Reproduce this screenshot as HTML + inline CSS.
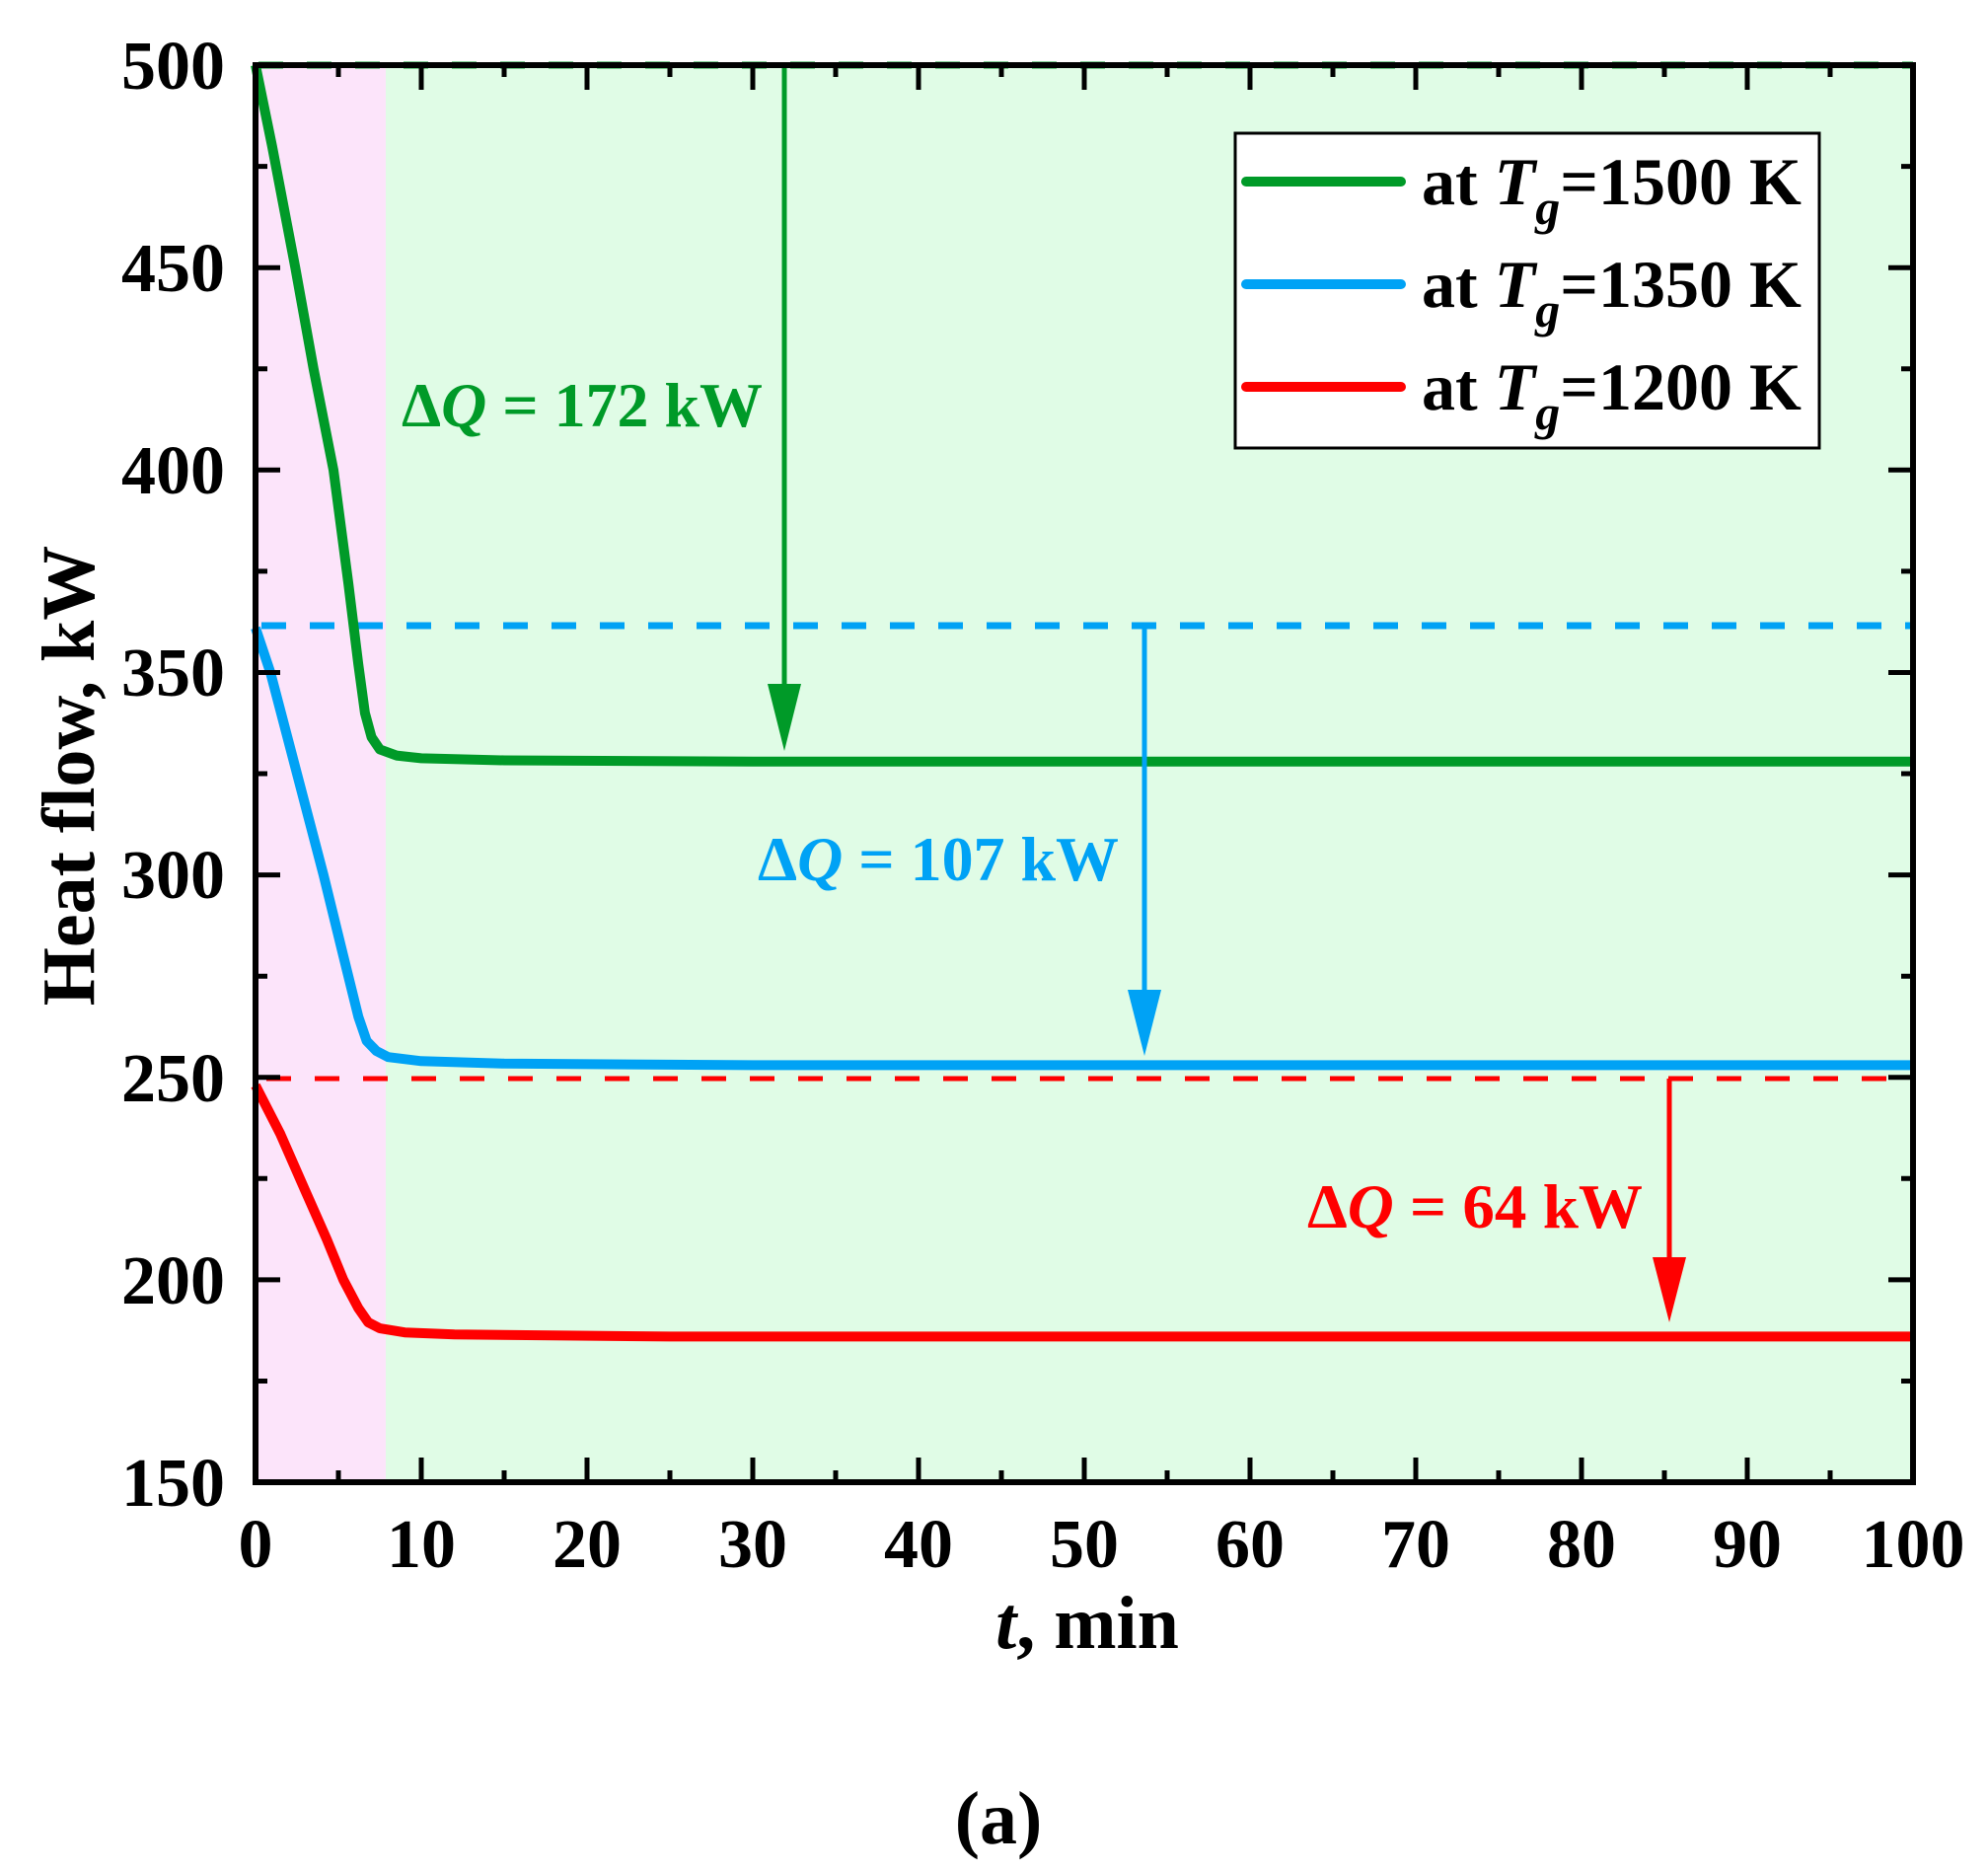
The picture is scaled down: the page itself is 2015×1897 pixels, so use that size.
<!DOCTYPE html>
<html><head><meta charset="utf-8"><style>html,body{margin:0;padding:0;background:#fff}svg{display:block}</style></head>
<body>
<svg width="2015" height="1897" viewBox="0 0 2015 1897" xmlns="http://www.w3.org/2000/svg" font-family="'Liberation Serif', serif" font-weight="bold">
<rect x="259" y="66" width="132" height="1436" fill="#fce4fa"/>
<rect x="391" y="66" width="1548" height="1436" fill="#e0fce6"/>
<line x1="262" y1="66" x2="1939" y2="66" stroke="#009a28" stroke-width="7" stroke-dasharray="25,24"/>
<line x1="265" y1="634" x2="1939" y2="634" stroke="#00a2f5" stroke-width="7" stroke-dasharray="25,24"/>
<line x1="270" y1="1093" x2="1939" y2="1093" stroke="#ff0000" stroke-width="5" stroke-dasharray="25,24"/>
<g fill="none" stroke-width="10" stroke-linejoin="round" stroke-linecap="butt">
<polyline stroke="#009a28" points="259,66 275.8,148.1 299.3,271.2 317.8,373.7 338,476.3 353.1,591.2 363.2,673.2 369.9,722.5 376.6,747.1 385,759.4 401.8,765.6 427,768.4 511,770.5 763,771.7 1939,771.7"/>
<polyline stroke="#00a2f5" points="259,636.3 274.1,681.5 301,784 327.9,886.6 348,968.7 363.2,1030.2 371.6,1054.8 381.6,1065.1 393.4,1071.2 427,1075.3 511,1077.8 763,1079.4 1939,1079.4"/>
<polyline stroke="#ff0000" points="259,1100 284.2,1149.2 309.4,1206.6 331.2,1255.9 348,1296.9 363.2,1325.6 373.2,1340 385,1346.1 410.2,1350.2 460.6,1352.3 679,1354.4 1939,1354.4"/>
</g>
<g stroke-width="5">
<line x1="795" y1="66" x2="795" y2="700" stroke="#009a28"/>
<line x1="1160" y1="634" x2="1160" y2="1008" stroke="#00a2f5"/>
<line x1="1692" y1="1093" x2="1692" y2="1278" stroke="#ff0000"/>
</g>
<polygon points="778,693 812,693 795,761" fill="#009a28"/>
<polygon points="1143,1003 1177,1003 1160,1070" fill="#00a2f5"/>
<polygon points="1675,1274 1709,1274 1692,1340" fill="#ff0000"/>
<text x="407" y="432" font-size="64" fill="#009a28" textLength="366" lengthAdjust="spacingAndGlyphs">Δ<tspan font-style="italic">Q</tspan> = 172 kW</text>
<text x="768" y="892" font-size="64" fill="#00a2f5" textLength="366" lengthAdjust="spacingAndGlyphs">Δ<tspan font-style="italic">Q</tspan> = 107 kW</text>
<text x="1325" y="1244" font-size="64" fill="#ff0000" textLength="340" lengthAdjust="spacingAndGlyphs">Δ<tspan font-style="italic">Q</tspan> = 64 kW</text>
<rect x="1252" y="135" width="592" height="319" fill="#fff" stroke="#000" stroke-width="3"/>
<g stroke-width="10" stroke-linecap="round">
<line x1="1263" y1="184" x2="1420" y2="184" stroke="#009a28"/>
<line x1="1263" y1="288" x2="1420" y2="288" stroke="#00a2f5"/>
<line x1="1263" y1="392" x2="1420" y2="392" stroke="#ff0000"/>
</g>
<g font-size="68" fill="#000">
<text x="1441" y="207">at <tspan font-style="italic">T</tspan><tspan font-style="italic" font-size="50" dy="20">g</tspan><tspan dy="-20">=1500 K</tspan></text>
<text x="1441" y="311">at <tspan font-style="italic">T</tspan><tspan font-style="italic" font-size="50" dy="20">g</tspan><tspan dy="-20">=1350 K</tspan></text>
<text x="1441" y="415">at <tspan font-style="italic">T</tspan><tspan font-style="italic" font-size="50" dy="20">g</tspan><tspan dy="-20">=1200 K</tspan></text>
</g>
<g stroke="#000" stroke-width="5">
<path d="M343,66v12M427,66v25M511,66v12M595,66v25M679,66v12M763,66v25M847,66v12M931,66v25M1015,66v12M1099,66v25M1183,66v12M1267,66v25M1351,66v12M1435,66v25M1519,66v12M1603,66v25M1687,66v12M1771,66v25M1855,66v12"/>
<path d="M343,1502v-12M427,1502v-25M511,1502v-12M595,1502v-25M679,1502v-12M763,1502v-25M847,1502v-12M931,1502v-25M1015,1502v-12M1099,1502v-25M1183,1502v-12M1267,1502v-25M1351,1502v-12M1435,1502v-25M1519,1502v-12M1603,1502v-25M1687,1502v-12M1771,1502v-25M1855,1502v-12"/>
<path d="M259,168.6h12M259,271.2h25M259,373.7h12M259,476.3h25M259,578.9h12M259,681.5h25M259,784h12M259,886.6h25M259,989.2h12M259,1091.8h25M259,1194.3h12M259,1296.9h25M259,1399.5h12"/>
<path d="M1939,168.6h-12M1939,271.2h-25M1939,373.7h-12M1939,476.3h-25M1939,578.9h-12M1939,681.5h-25M1939,784h-12M1939,886.6h-25M1939,989.2h-12M1939,1091.8h-25M1939,1194.3h-12M1939,1296.9h-25M1939,1399.5h-12"/>
</g>
<rect x="259" y="66" width="1680" height="1436" fill="none" stroke="#000" stroke-width="6"/>
<g font-size="70" text-anchor="end" fill="#000">
<text x="228" y="90">500</text>
<text x="228" y="295">450</text>
<text x="228" y="500">400</text>
<text x="228" y="705">350</text>
<text x="228" y="910">300</text>
<text x="228" y="1116">250</text>
<text x="228" y="1321">200</text>
<text x="228" y="1526">150</text>
</g>
<g font-size="70" text-anchor="middle" fill="#000">
<text x="259" y="1588">0</text>
<text x="427" y="1588">10</text>
<text x="595" y="1588">20</text>
<text x="763" y="1588">30</text>
<text x="931" y="1588">40</text>
<text x="1099" y="1588">50</text>
<text x="1267" y="1588">60</text>
<text x="1435" y="1588">70</text>
<text x="1603" y="1588">80</text>
<text x="1771" y="1588">90</text>
<text x="1939" y="1588">100</text>
</g>
<text x="1102" y="1670" font-size="76" text-anchor="middle"><tspan font-style="italic">t</tspan>, min</text>
<text transform="translate(95,786) rotate(-90)" font-size="76" text-anchor="middle">Heat flow, kW</text>
<text x="1012" y="1868" font-size="76" text-anchor="middle">(a)</text>
</svg>
</body></html>
